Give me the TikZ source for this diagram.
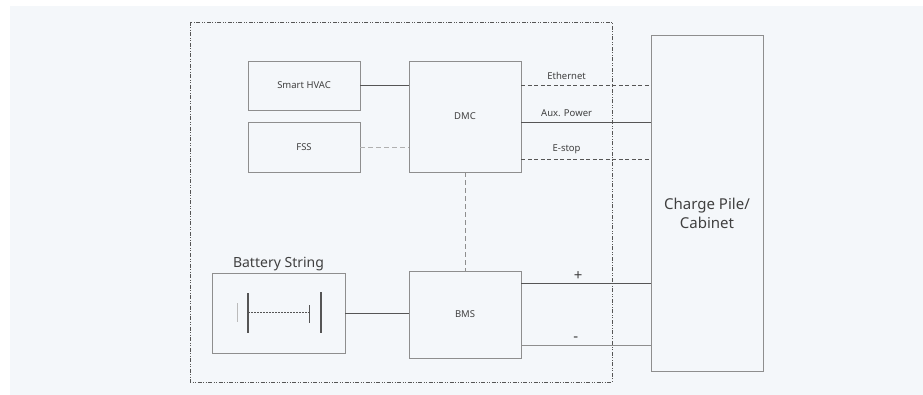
\documentclass[tikz,border=0pt]{standalone}
\usepackage{fontspec}
\setmainfont{Noto Sans}
\usepackage{xcolor}
\usetikzlibrary{calc, positioning}

\definecolor{panel}{HTML}{F4F7FA}
\definecolor{boxline}{HTML}{8E8E8E}
\definecolor{wire}{HTML}{555555}
\definecolor{txt}{HTML}{404040}

\begin{document}
\begin{tikzpicture}[x=1pt, y=-1pt,
        unit/.style={draw=boxline, line width=0.8pt, fill=panel, inner sep=0pt,
            text=txt, font=\fontsize{9.5}{11}\selectfont},
        wire/.style={draw=wire, line width=0.8pt},
        signal/.style={wire, dash pattern=on 4pt off 2.5pt},
        faint/.style={draw=boxline!70, line width=0.9pt, dash pattern=on 5pt off 3pt},
        tag/.style={text=txt, font=\fontsize{9.5}{11}\selectfont, inner sep=1pt},
        pole/.style={text=txt, font=\fontsize{15}{16}\selectfont, inner sep=1pt}]
            % background
            \fill[white] (0,0) rectangle (923,395);
            \fill[panel] (10,6) rectangle (923,395);
            \useasboundingbox (0,0) rectangle (923,395);

            % container frame
            \draw[wire, line width=0.9pt, dash pattern=on 4pt off 1.5pt on 1pt off 1.5pt on 1pt off 1.5pt]
                (190,22) rectangle (612,382);

            % blocks
            \node[unit, minimum width=112pt, minimum height=49pt] (hvac) at (304,85.5) {Smart HVAC};
            \node[unit, minimum width=112pt, minimum height=50pt] (fss) at (304,147) {FSS};
            \node[unit, minimum width=112pt, minimum height=111pt] (dmc) at (465,116.5) {DMC};
            \node[unit, minimum width=112pt, minimum height=87pt] (bms) at (465,314.5) {BMS};
            \node[unit, minimum width=133pt, minimum height=80pt,
                label={[text=txt, font=\fontsize{14}{16}\selectfont, inner sep=2pt]above:Battery String}]
                (bat) at (278.5,313) {};
            \node[unit, minimum width=112pt, minimum height=336pt,
                label={[text=txt, font=\fontsize{15}{19}\selectfont, align=center, yshift=-10pt]center:Charge Pile/\\Cabinet}]
                (pile) at (707,203) {};

            % battery symbol
            \begin{scope}[shift={(bat.center)}]
                \draw[boxline!60, line width=1pt] (-41.5,-10) -- (-41.5,9);
                \draw[wire, line width=1.2pt] (-30.5,-20) -- (-30.5,20);
                \draw[wire, line width=0.7pt, dash pattern=on 2pt off 1pt] (-30.5,-1) -- (30.5,-1);
                \draw[wire, line width=0.8pt] (30.5,-8) -- (30.5,10);
                \draw[wire, line width=1.2pt] (42.5,-21) -- (42.5,20);
            \end{scope}

            % internal links
            \draw[wire] (hvac.east) -- (hvac.east -| dmc.west);
            \draw[faint] (fss.east) -- (fss.east -| dmc.west);
            \draw[faint, draw=boxline] (dmc.south) -- (bms.north);
            \draw[wire, line width=1pt] (bat.east) -- (bat.east -| bms.west);

            % links to the charge pile
            \coordinate (eth) at ([yshift=31.5pt]dmc.east);
            \coordinate (aux) at ([yshift=-5.5pt]dmc.east);
            \coordinate (stop) at ([yshift=-42.5pt]dmc.east);
            \coordinate (pos) at ([yshift=31.5pt]bms.east);
            \coordinate (neg) at ([yshift=-30.5pt]bms.east);
            \draw[signal] (eth) -- node[tag, pos=0.35, above=4pt] {Ethernet} (eth -| pile.west);
            \draw[wire] (aux) -- node[tag, pos=0.35, above=4pt] {Aux. Power} (aux -| pile.west);
            \draw[signal] (stop) -- node[tag, pos=0.35, above=4pt] {E-stop} (stop -| pile.west);
            \draw[wire] (pos) -- node[pole, pos=0.44, above=1pt] {+} (pos -| pile.west);
            \draw[wire, draw=boxline] (neg) -- node[pole, pos=0.42, above=2pt] {-} (neg -| pile.west);
        \end{tikzpicture}
\end{document}
